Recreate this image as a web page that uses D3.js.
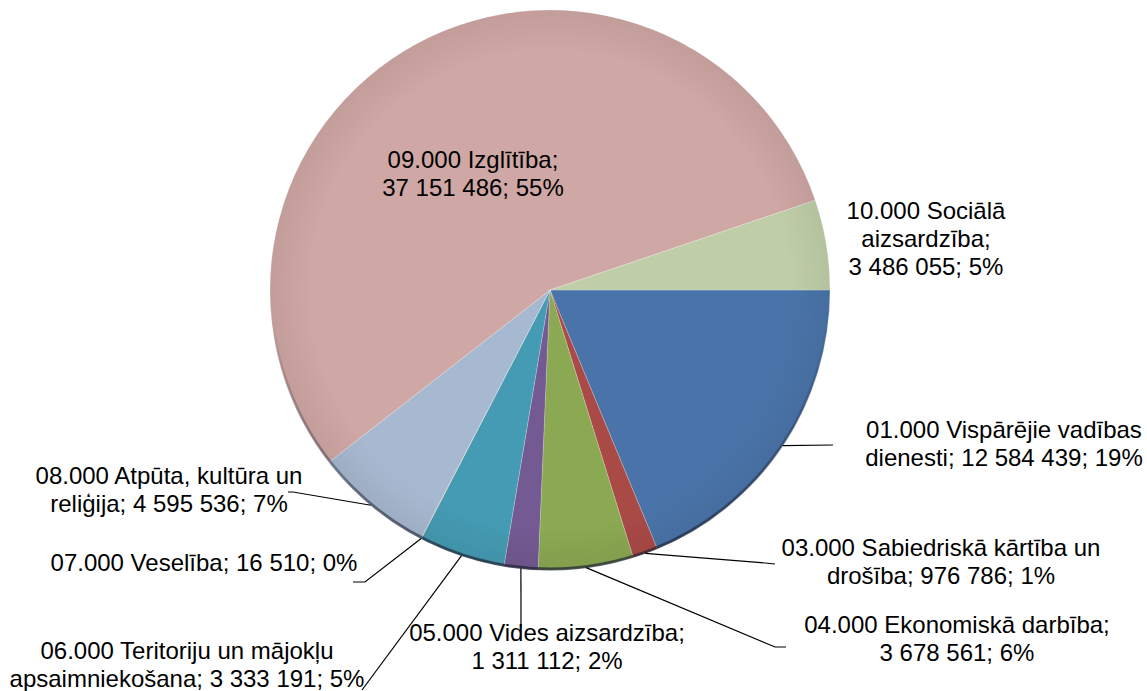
<!DOCTYPE html>
<html>
<head>
<meta charset="utf-8">
<script src="https://cdn.jsdelivr.net/npm/d3@7"></script>
<style>
  body { margin: 0; background: #fff; }
  text { font-family: "Liberation Sans", Arial, sans-serif; font-size: 24px; fill: #000; }
</style>
</head>
<body>
<svg></svg>
<script>
const codes = ['01.000', '03.000', '04.000', '05.000', '06.000', '07.000', '08.000', '09.000', '10.000'];
const names = ['Vispārējie vadības dienesti', 'Sabiedriskā kārtība un drošība', 'Ekonomiskā darbība',
               'Vides aizsardzība', 'Teritoriju un mājokļu apsaimniekošana', 'Veselība',
               'Atpūta, kultūra un reliģija', 'Izglītība', 'Sociālā aizsardzība'];
const values = [12584439, 976786, 3678561, 1311112, 3333191, 16510, 4595536, 37151486, 3486055];
const colors = ['#4a74a9', '#a94a47', '#8ba852', '#735a92', '#449bb3', '#db843d', '#a7b9d0', '#cfa7a4', '#c0cea8'];

// label placement: centre x, first baseline, words per line, leader points after the arc edge
const labelLayout = [
  { x: 1004, y: 438, wrap: [3, 5], leader: [[833, 445]] },
  { x: 941, y: 556, wrap: [4, 4], leader: [[765, 563], [775, 564]] },
  { x: 957, y: 633, wrap: [3, 4], leader: [[775, 647], [786, 647]] },
  { x: 547, y: 641, wrap: [3, 4], leader: [[521, 626]] },
  { x: 187, y: 659, wrap: [4, 5], leader: [[362, 690]] },
  { x: 204, y: 571, wrap: [5], leader: [[365, 582], [353, 582]] },
  { x: 169, y: 484, wrap: [4, 5], leader: [[293, 492], [288, 492]] },
  { x: 473, y: 168, wrap: [2, 4], leader: null },
  { x: 926, y: 219, wrap: [2, 1, 4], leader: null }
];

const WIDTH = 1147, HEIGHT = 691,
      CX = 550, CY = 290, R = 280,
      LINE_H = 28;

const svg = d3.select('svg')
  .attr('width', WIDTH)
  .attr('height', HEIGHT);

const total = d3.sum(values);

// percentages rounded so they add to 100 (largest remainder)
const raw = values.map(v => v / total * 100);
const pct = raw.map(Math.floor);
let left = 100 - d3.sum(pct);
d3.range(raw.length)
  .sort((a, b) => (raw[b] - Math.floor(raw[b])) - (raw[a] - Math.floor(raw[a])))
  .slice(0, left)
  .forEach(i => pct[i] += 1);

const fmt = d3.formatLocale({ decimal: ',', thousands: ' ', grouping: [3], currency: ['', ''] }).format(',d');

const pie = d3.pie()
  .sort(null)
  .startAngle(Math.PI / 2)
  .endAngle(Math.PI / 2 + 2 * Math.PI);

const arcs = pie(values);

const arc = d3.arc().innerRadius(0).outerRadius(R);
const edge = d3.arc().innerRadius(R).outerRadius(R);

const defs = svg.append('defs');
const rim = defs.append('linearGradient')
  .attr('id', 'rim')
  .attr('x1', 0).attr('y1', 0).attr('x2', 0).attr('y2', 1);
rim.append('stop').attr('offset', '0.55').attr('stop-color', '#1c2030').attr('stop-opacity', 0);
rim.append('stop').attr('offset', '1').attr('stop-color', '#1c2030').attr('stop-opacity', 0.7);

const shade = defs.append('radialGradient')
  .attr('id', 'shade')
  .attr('cx', '0.5').attr('cy', '0.5').attr('r', '0.5');
shade.append('stop').attr('offset', '0.85').attr('stop-color', '#000').attr('stop-opacity', 0);
shade.append('stop').attr('offset', '1').attr('stop-color', '#000').attr('stop-opacity', 0.06);

const g = svg.append('g')
  .attr('transform', 'translate(' + CX + ',' + CY + ')');

g.selectAll('path.slice')
  .data(arcs)
  .join('path')
  .attr('class', 'slice')
  .attr('fill', (d, i) => colors[i])
  .attr('stroke', 'rgba(255,255,255,0.35)')
  .attr('stroke-width', 0.6)
  .attr('d', arc);

g.append('circle')
  .attr('r', R)
  .attr('fill', 'url(#shade)');

g.append('circle')
  .attr('r', R - 1)
  .attr('fill', 'none')
  .attr('stroke', 'url(#rim)')
  .attr('stroke-width', 3);

// leader lines
const line = d3.line();
arcs.forEach((d, i) => {
  const lay = labelLayout[i];
  if (!lay.leader) return;
  const p = edge.centroid(d);
  const pts = [[CX + p[0], CY + p[1]]].concat(lay.leader);
  svg.append('path')
    .attr('d', line(pts))
    .attr('fill', 'none')
    .attr('stroke', '#000')
    .attr('stroke-width', 1.2);
});

// labels
arcs.forEach((d, i) => {
  const lay = labelLayout[i];
  const words = (codes[i] + ' ' + names[i] + '; ' + fmt(values[i]) + '; ' + pct[i] + '%').split(' ');
  const lines = [];
  let k = 0;
  lay.wrap.forEach(n => { lines.push(words.slice(k, k + n).join(' ')); k += n; });
  const t = svg.append('text')
    .attr('text-anchor', 'middle');
  lines.forEach((s, j) => {
    t.append('tspan')
      .attr('x', lay.x)
      .attr('y', lay.y + j * LINE_H)
      .text(s);
  });
});
</script>
</body>
</html>
